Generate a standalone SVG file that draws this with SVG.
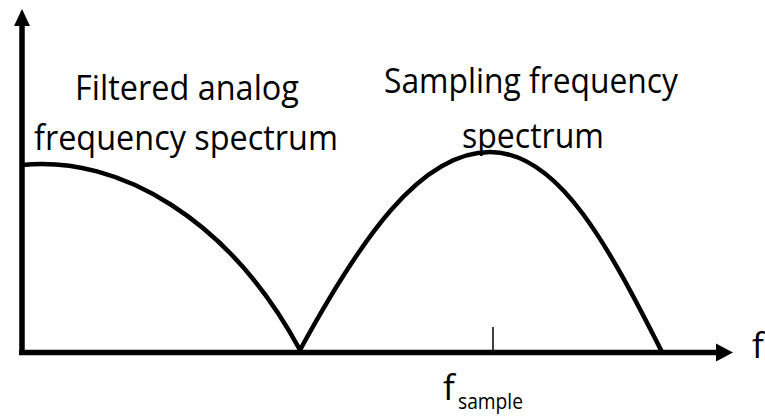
<svg xmlns="http://www.w3.org/2000/svg" width="765" height="418" viewBox="0 0 765 418">
<style>
.t{font-family:"Open Sans","Noto Sans","Liberation Sans",sans-serif;font-size:35px;fill:#000}
.s{font-family:"Open Sans","Noto Sans","Liberation Sans",sans-serif;font-size:22px;fill:#000}
.curve{fill:none;stroke:#000;stroke-width:4.5;stroke-linecap:round;stroke-linejoin:round}
.axis{stroke:#000;stroke-width:5.5;fill:none}
</style>
<rect width="765" height="418" fill="#fff"/>
<g id="axes">
<line class="axis" x1="22" y1="355" x2="22" y2="24"/>
<polygon points="22,9 14,26 30,26" fill="#000"/>
<line class="axis" x1="19" y1="352.5" x2="718" y2="352.5"/>
<polygon points="716,343.5 733,352.5 716,361.5" fill="#000"/>
<line x1="493" y1="327" x2="493" y2="351" stroke="#000" stroke-width="1.5"/>
</g>
<g id="connectors">
<path id="analog-spectrum" class="curve" d="M22,165 C120,155 230,220 300,350"/>
<path id="sampling-spectrum" class="curve" d="M300,350 C360,240 420,152 490,152 C560,152 610,250 662,352"/>
</g>
<g id="labels">
<text class="t" x="75" y="100" textLength="224" lengthAdjust="spacingAndGlyphs">Filtered analog</text>
<text class="t" x="34" y="150" textLength="304" lengthAdjust="spacingAndGlyphs">frequency spectrum</text>
<text class="t" x="384" y="93" textLength="294" lengthAdjust="spacingAndGlyphs">Sampling frequency</text>
<text class="t" x="462" y="148" textLength="142" lengthAdjust="spacingAndGlyphs">spectrum</text>
<text class="t" x="752" y="358">f</text>
<text class="t" x="443" y="400">f</text>
<text class="s" x="458" y="409" textLength="65" lengthAdjust="spacingAndGlyphs">sample</text>
</g>
</svg>
